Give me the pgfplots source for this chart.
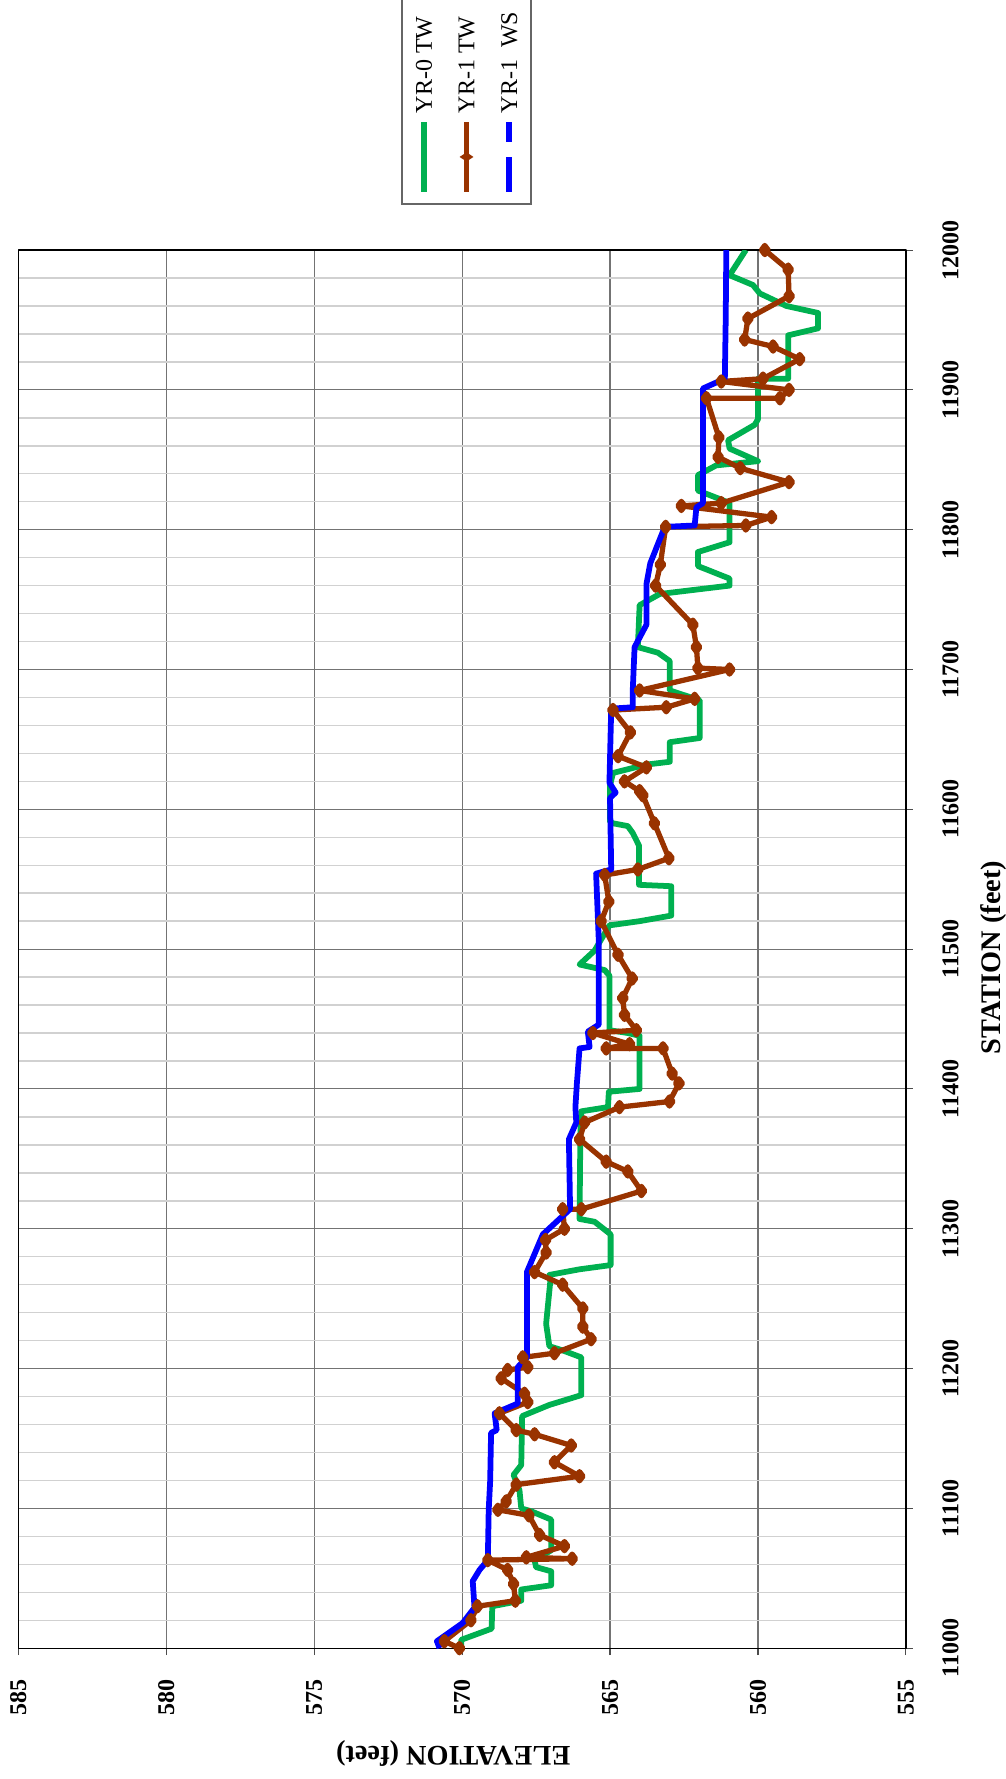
\documentclass[border=0pt]{standalone}
\usepackage{fontspec}
\setmainfont{Liberation Serif}
\usepackage{pgfplots}
\pgfplotsset{compat=1.18}
\usepackage{pgfplotstable}
\definecolor{grn}{HTML}{00B050}
\definecolor{brn}{HTML}{993300}

\pgfplotstableread{
sta elev
11000 570.03
11006 570.03
11014 569.00
11030 568.98
11034 568.00
11042 568.00
11045 566.99
11055 566.99
11058 567.50
11063 567.55
11070 566.99
11092 566.99
11098 567.67
11100 568.00
11113 568.06
11124 568.26
11131 568.00
11166 567.97
11174 567.05
11181 565.97
11208 565.97
11213 566.60
11216 567.05
11232 567.16
11262 567.02
11267 567.05
11271 566.03
11274 564.98
11296 564.98
11305 565.52
11307 566.03
11373 566.00
11384 565.97
11387 565.07
11398 565.04
11400 564.00
11438 564.00
11440 564.40
11442 565.02
11481 565.02
11485 565.18
11489 566.03
11499 565.52
11517 565.02
11520 564.00
11524 562.93
11545 562.93
11546 564.02
11574 564.02
11583 564.23
11588 564.40
11590 564.90
11591 565.00
11617 565.00
11626 564.90
11632 563.77
11634 562.98
11648 562.98
11651 561.97
11678 561.97
11685 562.98
11706 562.98
11712 563.38
11716 564.06
11746 564.00
11754 563.32
11760 560.96
11765 560.96
11774 562.03
11784 562.03
11791 560.96
11819 560.96
11822 561.30
11828 562.03
11839 562.03
11846 561.41
11849 560.00
11858 560.96
11864 561.01
11875 560.11
11879 560.00
11908 560.00
11908 558.98
11939 558.98
11944 557.97
11955 557.97
11960 559.04
11969 559.94
11975 560.17
11982 560.96
12000 560.41
}\yrzero

\pgfplotstableread{
sta elev
11000 570.09
11005 570.60
11020 569.70
11030 569.48
11034 568.20
11046 568.26
11056 568.46
11063 569.13
11064 566.28
11065 567.83
11073 566.54
11081 567.38
11095 567.74
11099 568.79
11105 568.51
11117 568.17
11123 566.03
11133 566.88
11145 566.31
11153 567.55
11156 568.17
11168 568.74
11176 567.78
11182 567.89
11193 568.68
11199 568.46
11201 567.78
11208 567.95
11211 566.88
11221 565.64
11230 565.92
11243 565.92
11260 566.60
11269 567.55
11283 567.16
11292 567.18
11300 566.54
11314 566.60
11314 565.97
11327 563.94
11341 564.40
11348 565.13
11364 566.03
11376 565.86
11387 564.68
11391 562.99
11404 562.67
11411 562.90
11429 563.21
11429 565.13
11432 564.34
11440 565.58
11442 564.11
11453 564.51
11465 564.57
11479 564.25
11496 564.73
11520 565.30
11534 565.04
11553 565.18
11557 564.06
11565 563.01
11590 563.50
11610 563.89
11613 564.00
11620 564.51
11630 563.77
11638 564.73
11655 564.31
11671 564.90
11673 563.10
11679 562.14
11685 564.00
11700 560.96
11701 562.03
11716 562.08
11732 562.20
11760 563.46
11775 563.30
11802 563.12
11803 560.41
11809 559.54
11817 562.59
11819 561.24
11834 558.95
11844 560.60
11852 561.35
11866 561.32
11894 561.74
11894 559.26
11900 558.95
11906 561.24
11908 559.83
11922 558.59
11931 559.49
11936 560.45
11951 560.34
11967 558.95
11986 558.98
12000 559.77
}\yronetw

\pgfplotstableread{
sta elev
11000 570.76
11005 570.85
11018 569.98
11029 569.58
11048 569.64
11056 569.41
11063 569.13
11099 569.10
11120 569.05
11154 569.02
11156 568.83
11168 568.90
11175 568.12
11201 568.12
11208 567.81
11269 567.81
11296 567.27
11314 566.35
11364 566.39
11376 566.14
11387 566.17
11404 566.12
11429 566.03
11430 565.69
11441 565.75
11446 565.38
11506 565.38
11554 565.47
11557 564.96
11608 565.00
11612 564.81
11619 565.02
11672 564.96
11673 564.23
11686 564.23
11716 564.17
11732 563.77
11761 563.77
11776 563.64
11802 563.15
11803 562.14
11816 562.08
11819 561.86
11901 561.86
11908 561.12
11951 561.09
12000 561.07
}\yronews

\begin{document}
\fontsize{10}{12}\selectfont
\begin{tikzpicture}
\begin{axis}[name=ax, at={(0,0)}, anchor=south west,
  scale only axis, width=369.9pt, height=582.6pt,
  x dir=reverse, xmin=555, xmax=585, ymin=11000, ymax=12000,
  xtick={555,560,...,585}, ytick={11000,11100,...,12000},
  scaled y ticks=false, scaled x ticks=false,
  minor y tick num=4,
  xmajorgrids, ymajorgrids, yminorgrids,
  major grid style={draw=black!55, line width=0.45pt},
  minor grid style={draw=black!18, line width=0.6pt},
  axis line style={black, line width=0.5pt},
  tick align=outside, major tick length=2.9pt, minor tick length=0pt,
  tick style={black!70, line width=0.45pt},
  xtick pos=left, ytick pos=right, yticklabel pos=right,
  /pgf/number format/assume math mode=true,
  /pgf/number format/fixed,
  /pgf/number format/set thousands separator={},
  xticklabel style={rotate=90, anchor=east, inner sep=0pt, font=\bfseries\fontsize{10}{12}\selectfont},
  yticklabel style={rotate=90, anchor=north, inner sep=0pt, font=\bfseries\fontsize{10}{12}\selectfont},
  xticklabel shift=9.75pt, yticklabel shift=12.1pt,
  xlabel={ELEVATION (feet)}, ylabel={STATION (feet)},
  xlabel style={at={(axis description cs:0.49,-0.0849)}, rotate=180, anchor=north, inner sep=0pt, font=\bfseries\fontsize{11.8}{14}\selectfont},
  ylabel style={at={(axis description cs:1.0833,0.494)}, anchor=north, inner sep=0pt, font=\bfseries\fontsize{11.8}{14}\selectfont},
  line join=round,
]
\addplot[grn, line width=2.4pt, no marks] table[x=elev, y=sta] {\yrzero};
\addplot[brn, line width=2.2pt, mark=diamond*, mark size=1.9pt, mark options={solid, fill=brn}] table[x=elev, y=sta] {\yronetw};
\addplot[blue, line width=2.4pt, no marks] table[x=elev, y=sta] {\yronews};
\end{axis}
% legend (rotated, drawn by hand)
\begin{scope}[shift={(ax.south west)}]
  \draw[black!60, line width=0.6pt, fill=white] (159.9pt,601.8pt) rectangle (213.6pt,688pt);
  % YR-0 TW
  \draw[grn, line width=2.4pt] (169.1pt,606.8pt) -- (169.1pt,636.0pt);
  \node[rotate=90, anchor=west, inner sep=0pt, font=\fontsize{10}{12}\selectfont] at (169.1pt,639.5pt) {YR-0 TW};
  % YR-1 TW
  \draw[brn, line width=2.2pt] (186.8pt,606.8pt) -- (186.8pt,636.0pt);
  \fill[brn] (183.9pt,621.4pt) -- (186.8pt,623.3pt) -- (189.7pt,621.4pt) -- (186.8pt,619.5pt) -- cycle;
  \node[rotate=90, anchor=west, inner sep=0pt, font=\fontsize{10}{12}\selectfont] at (186.8pt,639.5pt) {YR-1 TW};
  % YR-1 WS
  \draw[blue, line width=2.4pt, dash pattern=on 14.6pt off 6.25pt on 8.3pt off 50pt] (204.6pt,606.8pt) -- (204.6pt,636.0pt);
  \node[rotate=90, anchor=west, inner sep=0pt, font=\fontsize{10}{12}\selectfont] at (204.6pt,639.5pt) {YR-1\ \ WS};
\end{scope}
\pgfresetboundingbox
\path[use as bounding box] ([shift={(-7.6pt,-54.5pt)}]ax.south west) rectangle ([shift={(411.5pt,686.8pt)}]ax.south west);
\end{tikzpicture}
\end{document}
